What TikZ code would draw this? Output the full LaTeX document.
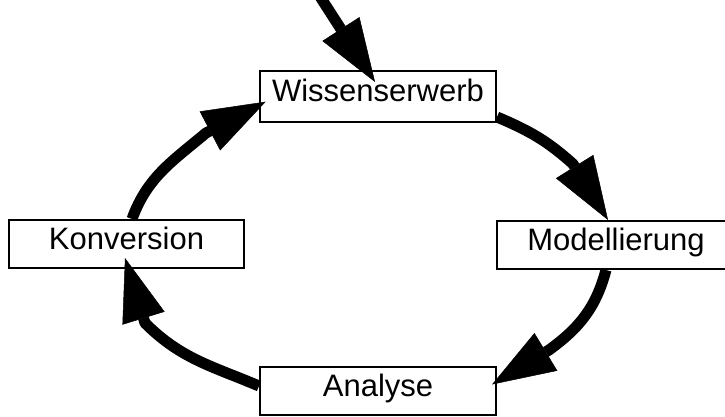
\documentclass[tikz,border=0pt]{standalone}
\usepackage{fontspec}
\setmainfont{Liberation Sans}
\usetikzlibrary{arrows.meta}

\begin{document}
\begin{tikzpicture}[x=1pt,y=1pt,
  phase/.style={draw,line width=2pt,inner sep=0pt,minimum height=48pt,minimum width=236pt,
    text height=21pt,text depth=10pt,font=\fontsize{31pt}{36pt}\selectfont},
  flow/.style={line width=11pt,line join=round,-{Triangle[length=63pt,width=44pt,line width=0.5pt]}}]
\useasboundingbox (0,0) rectangle (725,417);

\node[phase,minimum height=51pt] (W) at (378,320.5) {Wissenserwerb};
\node[phase,minimum width=235pt] (K) at (126.5,173) {Konversion\hspace{22pt}};
\node[phase,minimum width=238pt] (M) at (616,172) {Modellierung\hspace{10pt}};
\node[phase] (A) at (378,26) {Analyse};

\coordinate (src) at (319,422);

% Zyklus
\draw[flow] (src) -- ([shift={(-3,-12)}]W.north);
\draw[flow] ([yshift=-20.5]W.east) to[out=-23,in=138] ([shift={(-43,56)}]M.north) -- ([xshift=-8]M.north);
\draw[flow] ([xshift=-10]M.south) to[out=-105,in=36] ([shift={(52,41)}]A.east) -- ([shift={(-5,6.5)}]A.east);
\draw[flow] ([yshift=5]A.west) to[out=157,in=-45] ([shift={(18.5,-54)}]K.south) -- ([shift={(-1.5,11)}]K.south);
\draw[flow] ([xshift=5.5]K.north) to[out=70,in=-140] ([shift={(-53,-36.5)}]W.west) -- ([shift={(6.7,-5.2)}]W.west);

\end{tikzpicture}
\end{document}
